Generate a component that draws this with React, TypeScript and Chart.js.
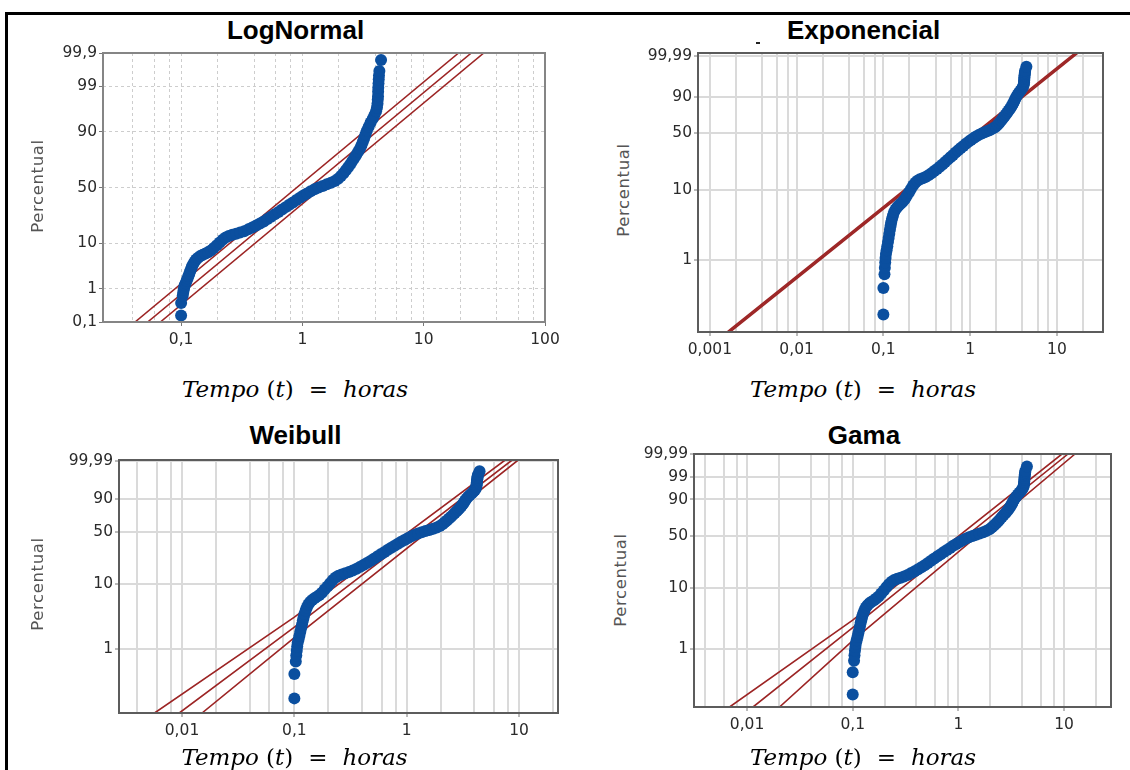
import React, { useEffect, useRef } from 'react';
import { Chart, Scale, registerables } from 'chart.js';

Chart.register(...registerables);

// ---------------- data ----------------
// failure times (hours) and their plotting percentiles, shared by the four plots
const TIME_H = [
  0.100, 0.100, 0.103, 0.104, 0.105, 0.106, 0.107, 0.109, 0.111, 0.113,
  0.115, 0.117, 0.119, 0.121, 0.123, 0.126, 0.129, 0.133, 0.138, 0.144,
  0.151, 0.159, 0.167, 0.176, 0.186, 0.197, 0.208, 0.220, 0.233, 0.247,
  0.264, 0.284, 0.306, 0.331, 0.358, 0.386, 0.416, 0.447, 0.480, 0.515,
  0.552, 0.592, 0.635, 0.680, 0.728, 0.780, 0.835, 0.893, 0.955, 1.02,
  1.09, 1.17, 1.26, 1.36, 1.47, 1.59, 1.72, 1.85, 1.97, 2.08,
  2.18, 2.28, 2.38, 2.48, 2.58, 2.68, 2.78, 2.88, 2.98, 3.07,
  3.15, 3.23, 3.31, 3.40, 3.52, 3.65, 3.80, 3.93, 4.05, 4.12,
  4.16, 4.18, 4.20, 4.21, 4.22, 4.24, 4.26, 4.28, 4.31, 4.45,
];
const PERCENT = [
  0.165, 0.40, 0.63, 0.78, 0.93, 1.08, 1.23, 1.40, 1.60, 1.84,
  2.10, 2.40, 2.75, 3.10, 3.50, 3.95, 4.40, 4.90, 5.35, 5.75,
  6.10, 6.45, 6.85, 7.40, 8.25, 9.20, 10.3, 11.5, 12.5, 13.3,
  13.9, 14.4, 15.0, 15.8, 16.8, 17.9, 19.1, 20.4, 21.8, 23.4,
  25.1, 26.9, 28.7, 30.6, 32.6, 34.6, 36.6, 38.7, 40.7, 42.7,
  44.6, 46.5, 48.3, 49.9, 51.4, 52.9, 54.4, 56.0, 58.0, 60.4,
  62.9, 65.4, 67.9, 70.4, 72.8, 75.1, 77.3, 79.4, 81.4, 83.4,
  85.3, 87.1, 88.8, 90.4, 91.9, 93.2, 94.3, 95.2, 96.0, 96.7,
  97.3, 97.8, 98.2, 98.6, 98.9, 99.15, 99.35, 99.5, 99.63, 99.83,
];

// fitted line and confidence bounds of each plot (time, percent)
const LN_LINE_P = [0.1, 99.9];
const LN_UPPER_T = [0.0417, 19.4];
const LN_FIT_T = [0.0530, 24.7];
const LN_LOWER_T = [0.0674, 31.3];

const EXP_LINE_P = [0.092, 99.996];
const EXP_UPPER_T = [0.00157, 16.2];
const EXP_FIT_T = [0.00164, 16.9];
const EXP_LOWER_T = [0.00171, 17.6];

const WB_UPPER_T = [0.0057, 0.1, 7.52];
const WB_UPPER_P = [0.097, 3.12, 99.993];
const WB_FIT_T = [0.00946, 0.1, 8.68];
const WB_FIT_P = [0.097, 2.18, 99.993];
const WB_LOWER_T = [0.01507, 0.1, 9.82];
const WB_LOWER_P = [0.097, 1.49, 99.993];

const GM_UPPER_T = [0.00684, 0.1, 9.55];
const GM_UPPER_P = [0.1, 3.06, 99.99];
const GM_FIT_T = [0.0114, 0.1, 10.9];
const GM_FIT_P = [0.1, 2.3, 99.99];
const GM_LOWER_T = [0.0203, 0.1, 12.7];
const GM_LOWER_P = [0.1, 1.38, 99.99];
const GAMMA_SHAPE = 1.5;

// axis ticks
const X_GRID_LN = [0.04, 0.06, 0.08, 0.1, 0.2, 0.4, 0.6, 0.8, 1, 2, 4, 6, 8, 10, 20, 40, 60, 80, 100];
const X_LABELS_LN = [0.1, 1, 10, 100];
const Y_TICKS_LN = [0.1, 1, 10, 50, 90, 99, 99.9];

const X_GRID_EXP = [0.001, 0.002, 0.004, 0.006, 0.008, 0.01, 0.02, 0.04, 0.06, 0.08, 0.1, 0.2, 0.4, 0.6, 0.8, 1, 2, 4, 6, 8, 10, 20];
const X_LABELS_EXP = [0.001, 0.01, 0.1, 1, 10];
const Y_TICKS_EXP = [1, 10, 50, 90, 99.99];

const X_GRID_WB = [0.004, 0.006, 0.008, 0.01, 0.02, 0.04, 0.06, 0.08, 0.1, 0.2, 0.4, 0.6, 0.8, 1, 2, 4, 6, 8, 10, 20];
const X_LABELS_WB = [0.01, 0.1, 1, 10];
const Y_TICKS_WB = [1, 10, 50, 90, 99.99];

const X_GRID_GM = [0.004, 0.006, 0.008, 0.01, 0.02, 0.04, 0.06, 0.08, 0.1, 0.2, 0.4, 0.6, 0.8, 1, 2, 4, 6, 8, 10, 20];
const X_LABELS_GM = [0.01, 0.1, 1, 10];
const Y_TICKS_GM = [1, 10, 50, 90, 99, 99.99];

// ---------------- probability-paper math ----------------
function probit(p: number): number {
  const a = [-39.69683028665376, 220.9460984245205, -275.9285104469687, 138.357751867269, -30.66479806614716, 2.506628277459239];
  const b = [-54.47609879822406, 161.5858368580409, -155.6989798598866, 66.80131188771972, -13.28068155288572];
  const c = [-0.007784894002430293, -0.3223964580411365, -2.400758277161838, -2.549732539343734, 4.374664141464968, 2.938163982698783];
  const d = [0.007784695709041462, 0.3224671290700398, 2.445134137142996, 3.754408661907416];
  const pl = 0.02425;
  if (p < pl) {
    const q = Math.sqrt(-2 * Math.log(p));
    return (((((c[0] * q + c[1]) * q + c[2]) * q + c[3]) * q + c[4]) * q + c[5]) / ((((d[0] * q + d[1]) * q + d[2]) * q + d[3]) * q + 1);
  }
  if (p <= 1 - pl) {
    const q = p - 0.5;
    const r = q * q;
    return ((((((a[0] * r + a[1]) * r + a[2]) * r + a[3]) * r + a[4]) * r + a[5]) * q) / (((((b[0] * r + b[1]) * r + b[2]) * r + b[3]) * r + b[4]) * r + 1);
  }
  const q = Math.sqrt(-2 * Math.log(1 - p));
  return -(((((c[0] * q + c[1]) * q + c[2]) * q + c[3]) * q + c[4]) * q + c[5]) / ((((d[0] * q + d[1]) * q + d[2]) * q + d[3]) * q + 1);
}

function lnGamma(z: number): number {
  const g = 7;
  const coef = [0.99999999999980993, 676.5203681218851, -1259.1392167224028, 771.32342877765313, -176.61502916214059,
    12.507343278686905, -0.13857109526572012, 9.9843695780195716e-6, 1.5056327351493116e-7];
  if (z < 0.5) return Math.log(Math.PI / Math.sin(Math.PI * z)) - lnGamma(1 - z);
  z -= 1;
  let x = coef[0];
  for (let i = 1; i < g + 2; i++) x += coef[i] / (z + i);
  const t = z + g + 0.5;
  return 0.5 * Math.log(2 * Math.PI) + (z + 0.5) * Math.log(t) - t + Math.log(x);
}

function gammaP(a: number, x: number): number {
  if (x <= 0) return 0;
  const gln = lnGamma(a);
  if (x < a + 1) {
    let ap = a;
    let sum = 1 / a;
    let del = sum;
    for (let n = 0; n < 300; n++) {
      ap += 1;
      del *= x / ap;
      sum += del;
      if (Math.abs(del) < Math.abs(sum) * 1e-14) break;
    }
    return sum * Math.exp(-x + a * Math.log(x) - gln);
  }
  let b = x + 1 - a;
  let c = 1e300;
  let d = 1 / b;
  let h = d;
  for (let i = 1; i < 300; i++) {
    const an = -i * (i - a);
    b += 2;
    d = an * d + b;
    if (Math.abs(d) < 1e-300) d = 1e-300;
    c = b + an / c;
    if (Math.abs(c) < 1e-300) c = 1e-300;
    d = 1 / d;
    const del = d * c;
    h *= del;
    if (Math.abs(del - 1) < 1e-14) break;
  }
  return 1 - Math.exp(-x + a * Math.log(x) - gln) * h;
}

function gammaLnQuantile(p: number, k: number): number {
  let lo = -25;
  let hi = 5;
  for (let i = 0; i < 70; i++) {
    const mid = (lo + hi) / 2;
    if (gammaP(k, Math.exp(mid)) < p) lo = mid;
    else hi = mid;
  }
  return (lo + hi) / 2;
}

// Probability axis: percent values placed on normal / Weibull / gamma paper
class ProbabilityScale extends Scale {
  static id = 'probability';
  static defaults = {};

  transformValue(v: number): number {
    const o: any = this.options;
    const p = v / 100;
    if (o.dist === 'normal') return probit(p);
    if (o.dist === 'gamma') return gammaLnQuantile(p, o.shape);
    return Math.log(-Math.log(1 - p));
  }
  determineDataLimits() {
    const o: any = this.options;
    (this as any).min = o.min;
    (this as any).max = o.max;
  }
  buildTicks() {
    return [];
  }
  configure() {
    super.configure();
    const self: any = this;
    self._t0 = this.transformValue(self.min);
    self._tr = this.transformValue(self.max) - self._t0;
  }
  getPixelForValue(v: number) {
    const self: any = this;
    if (v === null || v === undefined || isNaN(v)) return NaN;
    return this.getPixelForDecimal((this.transformValue(v) - self._t0) / self._tr);
  }
  getValueForPixel(_px: number) {
    return NaN;
  }
  getLabelForValue(v: number) {
    return String(v);
  }
}
Chart.register(ProbabilityScale as any);

// ---------------- styling / layout ----------------
const BLUE = '#0b4f9f';
const RED = '#9c2424';
const TICK_FONT = { family: "'DejaVu Sans', sans-serif", size: 15.5 };
const TICK_COLOR = '#2a2a2a';
const Y_AXIS_W = 64;
const X_AXIS_H = 40;
const PAD_TOP = 14;
const PAD_RIGHT = 22;

const fmt = (v: number) => String(v).replace('.', ',');

const boxPlugin = {
  id: 'plotBox',
  afterDatasetsDraw(chart: any, _args: any, opts: any) {
    const { ctx, chartArea: a } = chart;
    ctx.save();
    ctx.strokeStyle = opts.color || '#666';
    ctx.lineWidth = opts.width || 2;
    ctx.strokeRect(a.left, a.top, a.right - a.left, a.bottom - a.top);
    ctx.restore();
  },
};

type PanelSpec = {
  key: string;
  title: string;
  plot: [number, number, number, number];
  titlePos: [number, number];
  yLabPos: [number, number];
  xLabPos: [number, number];
  xMin: number;
  xMax: number;
  xGrid: number[];
  xLabels: number[];
  yMin: number;
  yMax: number;
  yTicks: number[];
  dist: string;
  lines: { t: number[]; p: number[] }[];
  dashed: boolean;
};

const PANELS: PanelSpec[] = [
  {
    key: 'ln', title: 'LogNormal', plot: [103, 53, 545, 322], titlePos: [295.5, 17.3], yLabPos: [37, 186], xLabPos: [295, 377.6],
    xMin: 0.0227, xMax: 100, xGrid: X_GRID_LN, xLabels: X_LABELS_LN, yMin: 0.1, yMax: 99.9, yTicks: Y_TICKS_LN, dist: 'normal',
    lines: [{ t: LN_UPPER_T, p: LN_LINE_P }, { t: LN_FIT_T, p: LN_LINE_P }, { t: LN_LOWER_T, p: LN_LINE_P }], dashed: true,
  },
  {
    key: 'exp', title: 'Exponencial', plot: [698, 53, 1103, 332], titlePos: [863.6, 17.3], yLabPos: [622.6, 190], xLabPos: [863, 377.6],
    xMin: 0.00073, xMax: 34, xGrid: X_GRID_EXP, xLabels: X_LABELS_EXP, yMin: 0.092, yMax: 99.996, yTicks: Y_TICKS_EXP, dist: 'weibull',
    lines: [{ t: EXP_UPPER_T, p: EXP_LINE_P }, { t: EXP_FIT_T, p: EXP_LINE_P }, { t: EXP_LOWER_T, p: EXP_LINE_P }], dashed: false,
  },
  {
    key: 'wb', title: 'Weibull', plot: [119, 460, 558, 713], titlePos: [295.5, 422.3], yLabPos: [37, 584], xLabPos: [294.5, 745.6],
    xMin: 0.00275, xMax: 22.2, xGrid: X_GRID_WB, xLabels: X_LABELS_WB, yMin: 0.097, yMax: 99.993, yTicks: Y_TICKS_WB, dist: 'weibull',
    lines: [{ t: WB_UPPER_T, p: WB_UPPER_P }, { t: WB_FIT_T, p: WB_FIT_P }, { t: WB_LOWER_T, p: WB_LOWER_P }], dashed: false,
  },
  {
    key: 'gm', title: 'Gama', plot: [694, 454, 1111, 707], titlePos: [864, 422.3], yLabPos: [620, 580], xLabPos: [863, 745.6],
    xMin: 0.00315, xMax: 27.8, xGrid: X_GRID_GM, xLabels: X_LABELS_GM, yMin: 0.1, yMax: 99.99, yTicks: Y_TICKS_GM, dist: 'gamma',
    lines: [{ t: GM_UPPER_T, p: GM_UPPER_P }, { t: GM_FIT_T, p: GM_FIT_P }, { t: GM_LOWER_T, p: GM_LOWER_P }], dashed: false,
  },
];

function buildConfig(s: PanelSpec): any {
  const gridColor = s.dashed ? '#cdcdcd' : '#dadada';
  const gridWidth = s.dashed ? 1 : 2;
  const dash = s.dashed ? [3, 3] : [];
  const lineSets = s.lines.map((ln) => ({
    data: ln.t.map((t, i) => ({ x: t, y: ln.p[i] })),
    showLine: true,
    pointRadius: 0,
    pointHoverRadius: 0,
    borderColor: RED,
    borderWidth: 1.6,
    fill: false,
    tension: 0,
  }));
  const pointSet = {
    data: TIME_H.map((t, i) => ({ x: t, y: PERCENT[i] })),
    showLine: false,
    pointRadius: 6,
    pointHoverRadius: 6,
    backgroundColor: BLUE,
    borderWidth: 0,
  };
  return {
    type: 'scatter',
    data: { datasets: [pointSet, ...lineSets] },
    options: {
      responsive: false,
      animation: false,
      devicePixelRatio: 1,
      events: [],
      layout: { padding: { left: 0, top: PAD_TOP, right: PAD_RIGHT, bottom: 0 } },
      plugins: {
        legend: { display: false },
        tooltip: { enabled: false },
        title: { display: false },
        plotBox: { color: s.dashed ? '#858585' : '#5c5c5c', width: 2 },
      },
      scales: {
        x: {
          type: 'logarithmic',
          position: 'bottom',
          min: s.xMin,
          max: s.xMax,
          bounds: 'data',
          afterBuildTicks: (sc: any) => {
            sc.ticks = s.xGrid.map((v) => ({ value: v }));
          },
          afterFit: (sc: any) => {
            sc.height = X_AXIS_H;
          },
          ticks: {
            autoSkip: false,
            maxRotation: 0,
            padding: 5,
            font: TICK_FONT,
            color: TICK_COLOR,
            callback: (v: number) => (s.xLabels.includes(v) ? fmt(v) : ''),
          },
          grid: {
            color: gridColor,
            lineWidth: gridWidth,
            drawTicks: true,
            tickLength: 4,
            tickWidth: 1,
            tickColor: (ctx: any) => (ctx.tick && s.xLabels.includes(ctx.tick.value) ? '#777' : 'rgba(0,0,0,0)'),
          },
          border: { display: false, dash },
        },
        y: {
          type: 'probability',
          position: 'left',
          dist: s.dist,
          shape: GAMMA_SHAPE,
          min: s.yMin,
          max: s.yMax,
          afterBuildTicks: (sc: any) => {
            sc.ticks = s.yTicks.map((v) => ({ value: v }));
          },
          afterFit: (sc: any) => {
            sc.width = Y_AXIS_W;
          },
          ticks: {
            autoSkip: false,
            padding: 2,
            font: TICK_FONT,
            color: TICK_COLOR,
            callback: (v: number) => fmt(v),
          },
          grid: {
            color: gridColor,
            lineWidth: gridWidth,
            drawTicks: true,
            tickLength: 4,
            tickWidth: 1,
            tickColor: '#777',
          },
          border: { display: false, dash },
        },
      },
    },
    plugins: [boxPlugin],
  };
}

function Panel({ spec }: { spec: PanelSpec }) {
  const ref = useRef<HTMLCanvasElement>(null);
  const [L, T, R, B] = spec.plot;
  const left = L - Y_AXIS_W;
  const top = T - PAD_TOP;
  const w = R - L + Y_AXIS_W + PAD_RIGHT;
  const h = B - T + PAD_TOP + X_AXIS_H;
  useEffect(() => {
    if (!ref.current) return;
    const chart = new Chart(ref.current, buildConfig(spec));
    return () => chart.destroy();
  }, []);
  return (
    <>
      <div
        style={{
          position: 'absolute', left: spec.titlePos[0], top: spec.titlePos[1], transform: 'translateX(-50%)',
          font: "bold 26px 'Liberation Sans', Arial, sans-serif", lineHeight: '26px', color: '#000', whiteSpace: 'nowrap',
        }}
      >
        {spec.title}
      </div>
      <canvas
        ref={ref}
        width={w}
        height={h}
        style={{ position: 'absolute', left, top, width: w, height: h }}
      />
      <div
        style={{
          position: 'absolute', left: spec.yLabPos[0], top: spec.yLabPos[1], transform: 'translate(-50%, -50%) rotate(-90deg)',
          font: "16.5px 'DejaVu Sans', sans-serif", letterSpacing: '0.6px', lineHeight: '17px', color: '#555', whiteSpace: 'nowrap',
        }}
      >
        Percentual
      </div>
      <div
        style={{
          position: 'absolute', left: spec.xLabPos[0], top: spec.xLabPos[1], transform: 'translateX(-50%)',
          font: "23px 'DejaVu Serif', serif", lineHeight: '23px', color: '#000', whiteSpace: 'nowrap',
        }}
      >
        <span style={{ fontStyle: 'italic' }}>Tempo</span>
        <span style={{ marginLeft: 7 }}>(</span>
        <span style={{ fontStyle: 'italic' }}>t</span>
        <span>)</span>
        <span style={{ marginLeft: 15 }}>=</span>
        <span style={{ marginLeft: 15, fontStyle: 'italic' }}>horas</span>
      </div>
    </>
  );
}

export default function App() {
  return (
    <div
      style={{
        position: 'absolute', left: 0, top: 0, width: 1130, height: 770, overflow: 'hidden', background: '#fff',
      }}
    >
      <div style={{ position: 'absolute', left: 5, top: 12, width: 1125, height: 3, background: '#000' }} />
      <div style={{ position: 'absolute', left: 5, top: 12, width: 3, height: 758, background: '#000' }} />
      <div style={{ position: 'absolute', left: 756, top: 42, width: 4, height: 2, background: '#222' }} />
      {PANELS.map((p) => (
        <Panel key={p.key} spec={p} />
      ))}
    </div>
  );
}
